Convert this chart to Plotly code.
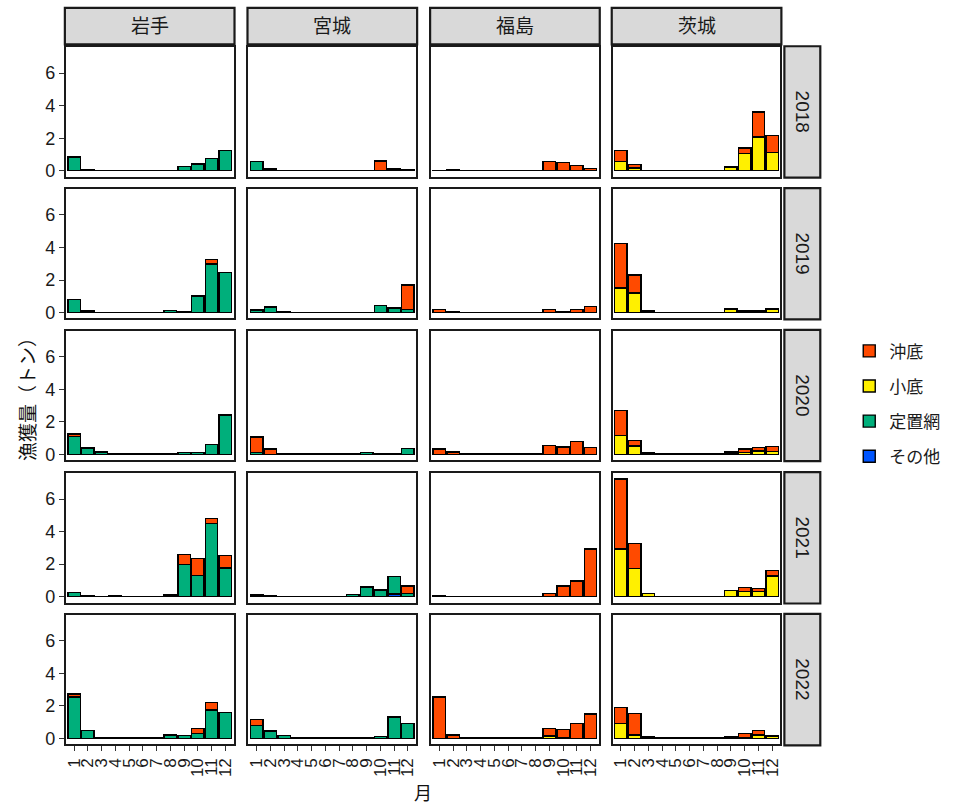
import plotly.graph_objects as go

# ---------------- data ----------------
months = list(range(1, 13))
month_labels = [str(m) for m in months]
prefs = ["岩手", "宮城", "福島", "茨城"]
years = ["2018", "2019", "2020", "2021", "2022"]
categories = ["沖底", "小底", "定置網", "その他"]
y_ticks = [0, 2, 4, 6]

Z12 = [0.0] * 12

# 岩手 (rows = years 2018..2022, columns = months 1..12)
iwate_okisoko = [
    Z12,
    [0, 0, 0, 0, 0, 0, 0, 0, 0, 0, 0.28, 0],
    [0.16, 0, 0, 0, 0, 0, 0, 0, 0, 0, 0, 0],
    [0, 0, 0, 0, 0, 0, 0, 0, 0.6, 1.05, 0.3, 0.78],
    [0.2, 0, 0, 0, 0, 0, 0, 0, 0, 0.3, 0.46, 0],
]
iwate_kosoko = [Z12, Z12, Z12, Z12, Z12]
iwate_teichi = [
    [0.85, 0.04, 0.02, 0.02, 0.02, 0.02, 0.02, 0.02, 0.26, 0.42, 0.77, 1.23],
    [0.8, 0.1, 0.02, 0.02, 0.02, 0.02, 0.02, 0.12, 0.08, 1.02, 2.98, 2.45],
    [1.09, 0.38, 0.14, 0.02, 0.02, 0.02, 0.02, 0.06, 0.1, 0.1, 0.59, 2.42],
    [0.24, 0.03, 0.02, 0.04, 0.02, 0.02, 0.02, 0.1, 1.98, 1.31, 4.5, 1.76],
    [2.54, 0.5, 0.02, 0.02, 0.04, 0.02, 0.04, 0.2, 0.18, 0.3, 1.74, 1.6],
]
iwate_other = [Z12, Z12, Z12, Z12, Z12]

# 宮城
miyagi_okisoko = [
    [0, 0, 0, 0, 0, 0, 0, 0, 0, 0.6, 0, 0],
    [0, 0, 0, 0, 0, 0, 0, 0, 0, 0, 0, 1.5],
    [0.95, 0.34, 0, 0, 0, 0, 0, 0, 0, 0, 0, 0],
    [0, 0, 0, 0, 0, 0, 0, 0, 0, 0, 0, 0.47],
    [0.36, 0, 0, 0, 0, 0, 0, 0, 0, 0, 0, 0],
]
miyagi_kosoko = [Z12, Z12, Z12, Z12, Z12]
miyagi_teichi = [
    [0.57, 0.1, 0.02, 0.02, 0.02, 0.02, 0.02, 0.02, 0.02, 0, 0.1, 0.05],
    [0.15, 0.33, 0.05, 0.02, 0.02, 0.02, 0.02, 0.02, 0.02, 0.42, 0.28, 0.2],
    [0.12, 0, 0.02, 0.02, 0.02, 0.02, 0.02, 0.02, 0.1, 0.02, 0.02, 0.36],
    [0.1, 0.03, 0.02, 0.02, 0.02, 0.02, 0.02, 0.14, 0.6, 0.4, 1.07, 0.18],
    [0.8, 0.46, 0.18, 0.02, 0.02, 0.02, 0.02, 0.02, 0.02, 0.1, 1.32, 0.9],
]
miyagi_other = [
    Z12, Z12, Z12,
    [0, 0, 0, 0, 0, 0, 0, 0, 0, 0, 0.16, 0],
    Z12,
]

# 福島
fukushima_okisoko = [
    [0.02, 0.04, 0.02, 0.02, 0.02, 0.02, 0.02, 0.02, 0.55, 0.5, 0.33, 0.12],
    [0.2, 0.05, 0.02, 0.02, 0.02, 0.02, 0.02, 0.02, 0.18, 0.08, 0.2, 0.36],
    [0.32, 0.15, 0.02, 0.02, 0.02, 0.02, 0.02, 0.02, 0.56, 0.46, 0.8, 0.42],
    [0.06, 0.02, 0.02, 0.02, 0.02, 0.02, 0.02, 0.02, 0.18, 0.65, 0.95, 2.93],
    [2.54, 0.22, 0.06, 0.02, 0.02, 0.02, 0.02, 0.02, 0.47, 0.5, 0.92, 1.5],
]
fukushima_kosoko = [
    Z12, Z12, Z12, Z12,
    [0, 0, 0, 0, 0, 0, 0, 0, 0.15, 0, 0, 0],
]
fukushima_teichi = [
    Z12, Z12, Z12, Z12,
    [0, 0, 0, 0, 0, 0, 0, 0, 0, 0.06, 0, 0],
]
fukushima_other = [Z12, Z12, Z12, Z12, Z12]

# 茨城
ibaraki_okisoko = [
    [0.66, 0.2, 0.02, 0.02, 0.02, 0.02, 0.02, 0.02, 0.06, 0.34, 1.52, 1.05],
    [2.72, 1.12, 0.05, 0.02, 0.02, 0.02, 0.02, 0.02, 0.02, 0.05, 0.05, 0.02],
    [1.55, 0.35, 0.04, 0.02, 0.02, 0.02, 0.02, 0.02, 0.08, 0.24, 0.22, 0.3],
    [4.3, 1.55, 0, 0.02, 0.02, 0.02, 0.02, 0.02, 0, 0.25, 0.2, 0.35],
    [1.0, 1.34, 0.05, 0.02, 0.02, 0.04, 0.02, 0.02, 0.04, 0.25, 0.28, 0.08],
]
ibaraki_kosoko = [
    [0.57, 0.18, 0, 0, 0, 0, 0, 0, 0.2, 1.07, 2.08, 1.13],
    [1.52, 1.2, 0.05, 0, 0, 0, 0, 0, 0.2, 0.05, 0.05, 0.2],
    [1.15, 0.5, 0.04, 0, 0, 0, 0, 0, 0.06, 0.1, 0.2, 0.18],
    [2.93, 1.72, 0.18, 0, 0, 0, 0, 0, 0.36, 0.3, 0.3, 1.27],
    [0.9, 0.2, 0.05, 0, 0, 0, 0, 0, 0.04, 0.05, 0.2, 0.1],
]
ibaraki_teichi = [Z12, Z12, Z12, Z12, Z12]
ibaraki_other = [Z12, Z12, Z12, Z12, Z12]

colors = {"沖底": "#FF4A00", "小底": "#FFF000", "定置網": "#00AF7B", "その他": "#0055FF"}

table = {
    "岩手": {"沖底": iwate_okisoko, "小底": iwate_kosoko, "定置網": iwate_teichi, "その他": iwate_other},
    "宮城": {"沖底": miyagi_okisoko, "小底": miyagi_kosoko, "定置網": miyagi_teichi, "その他": miyagi_other},
    "福島": {"沖底": fukushima_okisoko, "小底": fukushima_kosoko, "定置網": fukushima_teichi, "その他": fukushima_other},
    "茨城": {"沖底": ibaraki_okisoko, "小底": ibaraki_kosoko, "定置網": ibaraki_teichi, "その他": ibaraki_other},
}

# ---------------- layout geometry (pixels) ----------------
W, H = 967, 809
col_px = [(65, 233), (248, 416), (431, 599), (613, 781)]
row_px = [(47.5, 177.5), (190, 320), (332.5, 462.5), (475.5, 605.5), (618, 748)]
FONT = "Liberation Sans, Arial, Noto Sans CJK JP, sans-serif"

ymax = 0
for p in prefs:
    for yi in range(len(years)):
        for mi in range(12):
            s = sum(table[p][c][yi][mi] for c in categories)
            ymax = max(ymax, s)
y_range = [-0.05 * ymax, 1.05 * ymax]

fig = go.Figure()
layout = {}
shapes = []
annotations = []

stack_order = ["その他", "定置網", "小底", "沖底"]  # bottom -> top
legend_rank = {"沖底": 1, "小底": 2, "定置網": 3, "その他": 4}

for ri, yr in enumerate(years):
    for ci, p in enumerate(prefs):
        idx = ri * 4 + ci + 1
        xa = "x" if idx == 1 else f"x{idx}"
        ya = "y" if idx == 1 else f"y{idx}"
        for cat in stack_order:
            show = (idx == 1)
            fig.add_trace(go.Bar(
                x=months, y=table[p][cat][ri], name=cat,
                marker=dict(color=colors[cat], line=dict(color="black", width=1.4)),
                width=0.9, xaxis=xa, yaxis=ya,
                legendgroup=cat, showlegend=show, legendrank=legend_rank[cat],
                hovertemplate=f"{p} {yr}年 %{{x}}月<br>{cat}: %{{y}}トン<extra></extra>",
            ))
        x0, x1 = col_px[ci]
        y0, y1 = row_px[ri]
        xkey = "xaxis" if idx == 1 else f"xaxis{idx}"
        ykey = "yaxis" if idx == 1 else f"yaxis{idx}"
        layout[xkey] = dict(
            domain=[x0 / W, x1 / W], anchor=ya, range=[0.4, 12.6],
            tickmode="array", tickvals=months, ticktext=month_labels,
            showticklabels=(ri == len(years) - 1), ticks="outside" if ri == len(years) - 1 else "",
            ticklen=5, tickwidth=1.3, tickcolor="#333", tickangle=-90,
            tickfont=dict(size=17, color="#1a1a1a", family=FONT),
            showgrid=False, zeroline=False, showline=True, linecolor="#1a1a1a",
            linewidth=2.2, mirror=True, fixedrange=True,
        )
        layout[ykey] = dict(
            domain=[1 - y1 / H, 1 - y0 / H], anchor=xa, range=y_range,
            tickmode="array", tickvals=y_ticks,
            showticklabels=(ci == 0), ticks="outside" if ci == 0 else "",
            ticklen=5, tickwidth=1.3, tickcolor="#333",
            tickfont=dict(size=18, color="#1a1a1a", family=FONT),
            showgrid=False, zeroline=False, showline=True, linecolor="#1a1a1a",
            linewidth=2.2, mirror=True, fixedrange=True,
        )

# column strips
for ci, p in enumerate(prefs):
    x0, x1 = col_px[ci]
    shapes.append(dict(type="rect", xref="paper", yref="paper",
                       x0=(x0 - 1) / W, x1=(x1 + 1) / W, y0=1 - 44.5 / H, y1=1 - 8 / H,
                       fillcolor="#D9D9D9", line=dict(color="#1a1a1a", width=2.2), layer="below"))
    annotations.append(dict(text=p, xref="paper", yref="paper", x=(x0 + x1) / 2 / W,
                            y=1 - 27 / H, showarrow=False, xanchor="center", yanchor="middle",
                            font=dict(size=19, color="#1a1a1a", family=FONT)))
# row strips
for ri, yr in enumerate(years):
    y0, y1 = row_px[ri]
    shapes.append(dict(type="rect", xref="paper", yref="paper",
                       x0=785 / W, x1=821 / W, y0=1 - (y1 + 1) / H, y1=1 - (y0 - 1) / H,
                       fillcolor="#D9D9D9", line=dict(color="#1a1a1a", width=2.2), layer="below"))
    annotations.append(dict(text=yr, xref="paper", yref="paper", x=803 / W,
                            y=1 - (y0 + y1) / 2 / H, showarrow=False, textangle=90,
                            xanchor="center", yanchor="middle",
                            font=dict(size=19, color="#1a1a1a", family=FONT)))

# axis titles
annotations.append(dict(text="漁獲量（トン）", xref="paper", yref="paper", x=27 / W, y=1 - 396 / H,
                        showarrow=False, textangle=-90, xanchor="center", yanchor="middle",
                        font=dict(size=19, color="#111", family=FONT)))
annotations.append(dict(text="月", xref="paper", yref="paper", x=423 / W, y=1 - 798 / H,
                        showarrow=False, xanchor="center", yanchor="middle",
                        font=dict(size=18, color="#111", family=FONT)))

fig.update_layout(
    width=W, height=H, margin=dict(l=0, r=0, t=0, b=0),
    paper_bgcolor="white", plot_bgcolor="white",
    barmode="stack", bargap=0.1,
    font=dict(family=FONT, color="#1a1a1a"),
    shapes=shapes, annotations=annotations,
    legend=dict(x=850 / W, y=1 - 335 / H, xanchor="left", yanchor="top",
                font=dict(size=17, family=FONT, color="#1a1a1a"),
                tracegroupgap=10, bgcolor="rgba(0,0,0,0)"),
    **layout,
)

fig.write_html("out.html", config={"displayModeBar": False},
               post_script="document.body.style.margin='0';")
